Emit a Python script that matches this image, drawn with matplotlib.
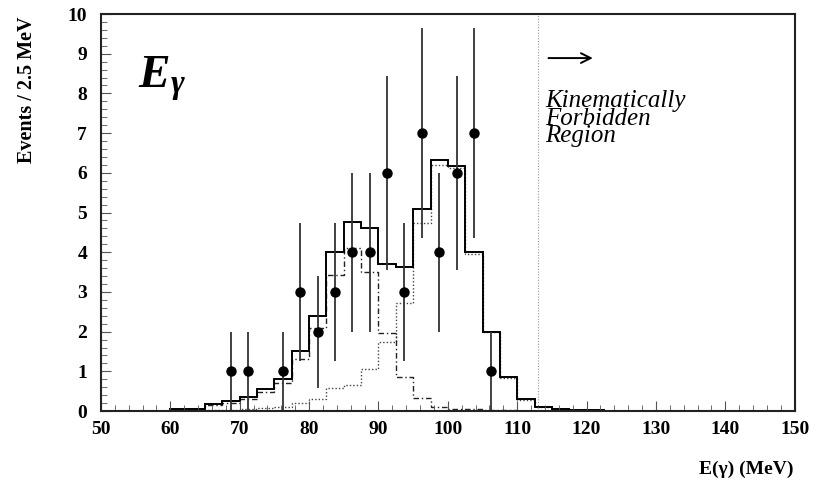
import numpy as np
import matplotlib as mpl
mpl.use('Agg')
import matplotlib.pyplot as plt
from matplotlib.ticker import MultipleLocator

# 2.5 MeV bins from 50 to 150
edges = np.arange(50, 150.01, 2.5)

# total expectation (solid)
total = [0.0, 0.0, 0.01, 0.01, 0.04, 0.04, 0.17, 0.25, 0.36, 0.55,
         0.81, 1.5, 2.4, 4.0, 4.75, 4.6, 3.7, 3.63, 5.1, 6.32,
         6.18, 4.0, 2.0, 0.86, 0.3, 0.1, 0.05, 0.03, 0.02, 0.01,
         0.01, 0.0, 0.0, 0.0, 0.0, 0.0, 0.0, 0.0, 0.0, 0.0]
# lower energy component (dash-dot)
comp_a = [0.0, 0.0, 0.01, 0.01, 0.03, 0.03, 0.14, 0.21, 0.31, 0.47,
          0.7, 1.3, 2.1, 3.43, 4.1, 3.5, 1.96, 0.85, 0.32, 0.1,
          0.06, 0.04, 0.03, 0.02, 0.01, 0.0, 0.0, 0.0, 0.0, 0.0,
          0.0, 0.0, 0.0, 0.0, 0.0, 0.0, 0.0, 0.0, 0.0, 0.0]
# higher energy component (dotted)
comp_b = [0.0, 0.0, 0.0, 0.0, 0.01, 0.01, 0.02, 0.03, 0.04, 0.07,
          0.11, 0.2, 0.3, 0.57, 0.65, 1.07, 1.73, 2.71, 4.73, 6.2,
          6.11, 3.96, 1.98, 0.84, 0.29, 0.09, 0.05, 0.03, 0.02, 0.01,
          0.0, 0.0, 0.0, 0.0, 0.0, 0.0, 0.0, 0.0, 0.0, 0.0]

# data points
e_data = [68.75, 71.25, 76.25, 78.75, 81.25, 83.75, 86.25, 88.75,
          91.25, 93.75, 96.25, 98.75, 101.25, 103.75, 106.25]
n_data = [1, 1, 1, 3, 2, 3, 4, 4, 6, 3, 7, 4, 6, 7, 1]
n_err = [1, 1, 1, 1.73, 1.41, 1.73, 2, 2, 2.45, 1.73, 2.65, 2, 2.45, 2.65, 1]

kin_limit = 113.0

serif = ['Liberation Serif', 'DejaVu Serif']
plt.rcParams['mathtext.fontset'] = 'custom'
plt.rcParams['mathtext.bfit'] = 'Liberation Serif:italic:bold'
plt.rcParams['mathtext.it'] = 'Liberation Serif:italic'
plt.rcParams['mathtext.rm'] = 'Liberation Serif'

fig = plt.figure(figsize=(8.21, 4.83), dpi=100)
ax = fig.add_axes([0.123, 0.149, 0.845, 0.822])

ax.stairs(comp_b, edges, color='#444444', lw=1.0, ls=(0, (1, 1.5)))
ax.stairs(comp_a, edges, color='#222222', lw=1.0, ls=(0, (4, 2, 1, 2)))
ax.stairs(total, edges, color='black', lw=1.4)

ax.errorbar(e_data, n_data, yerr=n_err, fmt='o', color='black', ms=6.5,
            ecolor='#333333', elinewidth=1.3, capsize=0)

ax.axvline(kin_limit, color='#999999', lw=0.8, ls=(0, (1, 1.5)))

ax.annotate('', xy=(121.3, 8.89), xytext=(114.1, 8.89),
            arrowprops=dict(arrowstyle='->,head_length=0.7,head_width=0.35',
                            lw=1.4, color='black'))
ax.text(114.0, 6.78, 'Kinematically\nForbidden\nRegion', family=serif,
        style='italic', fontsize=18, va='baseline', ha='left',
        linespacing=0.72)

ax.text(55.3, 8.14, r'$\mathbfit{E}_{\mathbfit{\gamma}}$', fontsize=34,
        va='baseline', ha='left')

ax.set_xlim(50, 150)
ax.set_ylim(0, 10)
ax.xaxis.set_major_locator(MultipleLocator(10))
ax.xaxis.set_minor_locator(MultipleLocator(2))
ax.yaxis.set_major_locator(MultipleLocator(1))
ax.yaxis.set_minor_locator(MultipleLocator(0.2))
ax.tick_params(which='both', direction='in', color='#555555')
ax.tick_params(which='major', length=7, width=0.8)
ax.tick_params(which='minor', length=4, width=0.6)
ax.tick_params(axis='y', pad=10)
ax.tick_params(axis='x', pad=7)
for lab in ax.get_xticklabels() + ax.get_yticklabels():
    lab.set_family(serif)
    lab.set_weight('bold')
    lab.set_fontsize(14)
for sp in ax.spines.values():
    sp.set_linewidth(1.5)
    sp.set_color('#222222')

fig.text(27 / 821, 1 - 90 / 483, 'Events / 2.5 MeV', rotation=90,
         family=serif, weight='bold', fontsize=14.5, ha='center', va='center')
fig.text(793 / 821, 1 - 469 / 483, 'E(\u03b3) (MeV)', family=serif,
         weight='bold', fontsize=14, ha='right', va='center')

fig.savefig('out.png', dpi=100)
